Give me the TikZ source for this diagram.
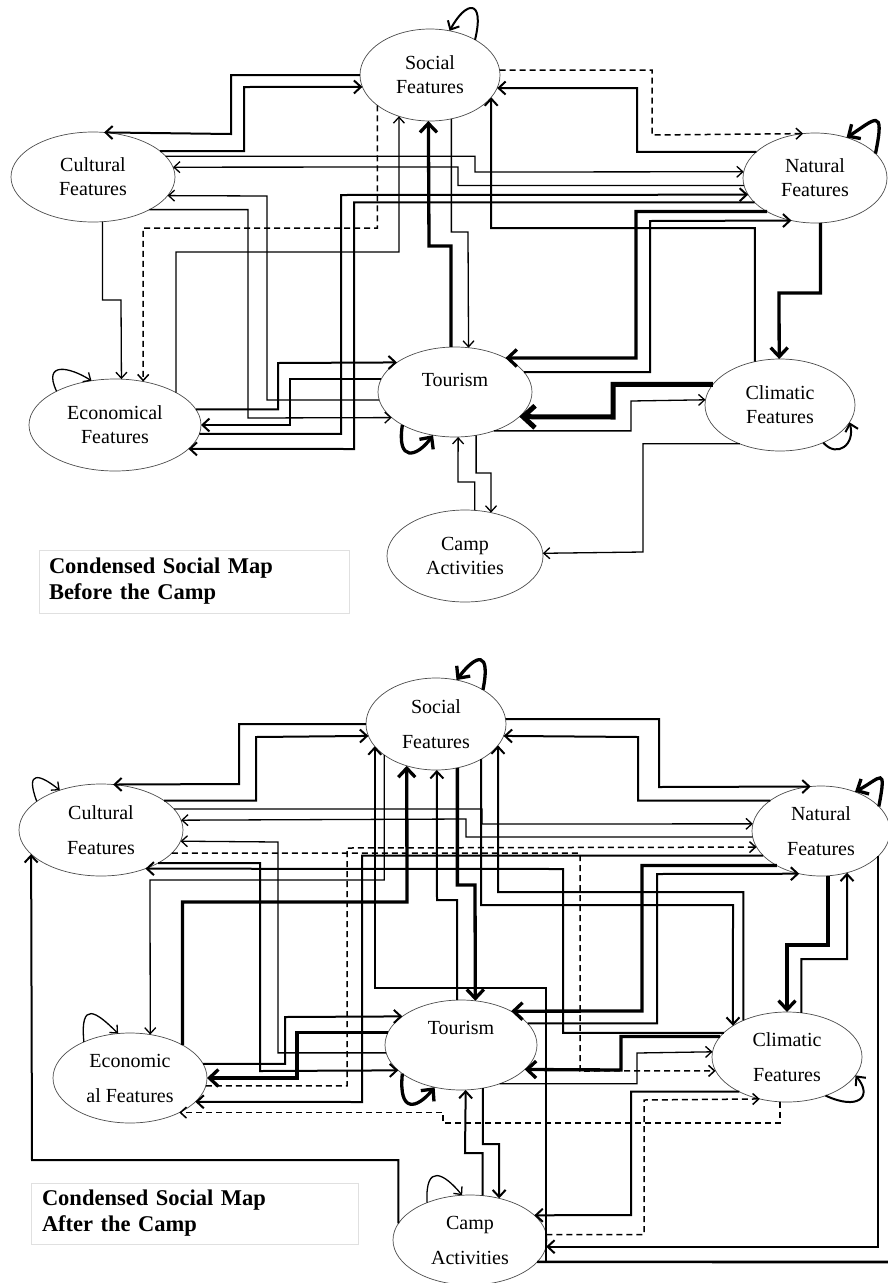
\documentclass[tikz,border=0pt]{standalone}
\usepackage{fontspec}
\setmainfont{Liberation Serif}
\usetikzlibrary{shapes.geometric,arrows.meta}

\begin{document}
\begin{tikzpicture}[x=1pt,y=-1pt,
  feat/.style={ellipse, draw=black!70, line width=0.7pt, inner sep=0pt, outer sep=0pt, align=center, font=\fontsize{20}{24}\selectfont},
  featb/.style={feat, font=\fontsize{20}{35}\selectfont},
  titlebox/.style={draw=black!12, line width=0.6pt, inner sep=0pt, align=left, font=\fontsize{22.5}{26}\selectfont\bfseries},
  wfine/.style={line width=1.3pt, -{Straight Barb[length=6pt,width=11pt]}},
  wmid/.style={line width=2pt, -{Straight Barb[length=7pt,width=13pt]}},
  wbold/.style={line width=3.3pt, -{Straight Barb[length=9pt,width=17pt]}},
  wheavy/.style={line width=5pt, -{Straight Barb[length=12pt,width=22pt]}},
  wdash/.style={line width=1.5pt, dash pattern=on 6pt off 4pt, -{Straight Barb[length=6pt,width=11pt]}}]
\fill[white] (0,0) rectangle (888,1283);
\useasboundingbox (0,0) rectangle (888,1283);

% before the camp
\node[feat, minimum width=140pt, minimum height=92pt] (soc) at (430,75) {Social\\Features};
\node[feat, minimum width=164pt, minimum height=90pt] (cul) at (93,177) {Cultural\\Features};
\node[feat, minimum width=144pt, minimum height=90pt] (nat) at (815,178) {Natural\\Features};
\node[feat, minimum width=172pt, minimum height=92pt] (eco) at (115,425) {Economical\\Features};
\node[feat, minimum width=154pt, minimum height=90pt] (tou) at (455,392) {Tourism\\\phantom{T}};
\node[feat, minimum width=150pt, minimum height=92pt] (cli) at (780,405) {Climatic\\Features};
\node[feat, minimum width=156pt, minimum height=92pt] (cam) at (465,556) {Camp\\Activities};
\node[titlebox, minimum width=310pt, minimum height=63pt, text width=290pt] (cap1) at (194,581.5) {Condensed Social Map\\Before the Camp};

\draw[wmid] (soc.180) -| (231,134) -- (cul.76);
\draw[wmid] (cul.21.2) -| (244,87) -- (soc.190.1);
\draw[wfine] (cul.16.2) -| (475,172) -- (nat.175.2);
\draw[wfine] (nat.186.4) -| (458,167) -- (cul.7.1);
\draw[wfine] (cul.-30.6) -| (248,418) -- (tou.202.5);
\draw[wfine] (tou.186) -| (267,196) -- (cul.-14.3);
\draw[wfine] (cul.-78.6) |- (121,300) -- (eco.82.6);
\draw[wdash] (soc.210.6) |- (143,228) -- (eco.57.2);
\draw[wfine] (eco.28.7) |- (399,252) -- (soc.233);
\draw[wmid] (eco.11.2) -| (278,363) -- (tou.153.8);
\draw[wmid] (tou.170) -| (290,425) -- (eco.0);
\draw[wmid] (eco.-6.8) -| (341,195) -- (nat.194.3);
\draw[wmid] (nat.202.7) -| (354,449) -- (eco.-18.1);
\draw[wfine] (soc.-64.4) |- (468,232) -- (tou.73.7);
\draw[wbold] (tou.95.1) |- (429,246) -- (soc.268.8);
\draw[wmid] (cli.120.1) |- (491,228) -- (soc.-20.3);
\draw[wmid] (nat.156.1) -| (637,88) -- (soc.-11);
\draw[wdash] (soc.4.1) -| (652,135) -- (nat.105.1);
\draw[wbold] (nat.215.8) -| (636,358) -- (tou.34);
\draw[wmid] (tou.16.2) -| (650,221) -- (nat.241.6);
\draw[wbold] (nat.-83.6) |- (779,293) -- (cli.91.2);
\draw[wheavy] (cli.163.5) -| (613,417) -- (tou.-21.3);
\draw[wfine] (tou.-45.4) -| (631,401) -- (cli.176.9);
\draw[wfine] (cli.224.5) -| (643,552) -- (cam.2.9);
\draw[wfine] (tou.-64.1) |- (491,473) -- (cam.59.1);
\draw[wfine] (cam.78.9) |- (458,482) -- (tou.-86.2);
% loops
\draw[wmid] (soc.38) .. controls +(10,-42) and +(16,-30) .. (soc.66);
\draw[wbold] (nat.22) .. controls +(10,-48) and +(28,-18) .. (nat.52);
\draw[wfine] (eco.150) .. controls +(-14,-30) and +(-22,-14) .. (eco.118);
\draw[wbold] (tou.212) .. controls +(-6,38) and +(-16,22) .. (tou.243);
\draw[wmid] (cli.-41) .. controls +(14,16) and +(6,22) .. (cli.-14);

% after the camp
\node[featb, minimum width=140pt, minimum height=92pt] (soc2) at (436,724) {Social\\Features};
\node[featb, minimum width=164pt, minimum height=92pt] (cul2) at (101,830) {Cultural\\Features};
\node[featb, minimum width=138pt, minimum height=90pt] (nat2) at (821,831) {Natural\\Features};
\node[featb, minimum width=154pt, minimum height=90pt] (eco2) at (130,1078) {Economic\\al Features};
\node[featb, minimum width=152pt, minimum height=90pt] (tou2) at (461,1045) {Tourism\\\phantom{T}};
\node[featb, minimum width=150pt, minimum height=90pt] (cli2) at (787,1057) {Climatic\\Features};
\node[featb, minimum width=154pt, minimum height=90pt] (cam2) at (470,1240) {Camp\\Activities};
\node[titlebox, minimum width=327pt, minimum height=61pt, text width=305pt] (cap2) at (194.5,1213.5) {Condensed Social Map\\After the Camp};
\coordinate (cut) at (888,1262);

\draw[wmid] (soc2.180) -| (239,784) -- (cul2.75);
\draw[wmid] (cul2.25.8) -| (256,737) -- (soc2.190.9);
\draw[wfine] (cul2.16) -| (482,824) -- (nat2.174.1);
\draw[wfine] (nat2.185.9) -| (466,819) -- (cul2.7.9);
\draw[wdash] (cul2.-18.9) -| (580,1071) -- (cli2.191.1);
\draw[wdash] (eco2.-6.8) -| (347,848) -- (nat2.194.9);
\draw[wfine] (tou2.186.1) -| (278,842) -- (cul2.-8.6);
\draw[wmid] (cul2.-30) -| (260,1071) -- (tou2.202.8);
\draw[wmid] (cli2.159.3) -| (563,869) -- (cul2.-41.9);
\draw[wfine] (soc2.211.7) |- (150,880) -- (eco2.65.3);
\draw[wbold] (eco2.32.6) |- (407,902) -- (soc2.235.3);
\draw[wmid] (tou2.95.1) |- (437,900) -- (soc2.271.2);
\draw[wbold] (soc2.-64.4) |- (475,885) -- (tou2.72.4);
\draw[wmid] (soc2.-38) |- (733,905) -- (cli2.150);
\draw[wmid] (cli2.140.4) |- (498,892) -- (soc2.-19);
\draw[wmid] (soc2.4.1) -| (659,787) -- (nat2.103.9);
\draw[wmid] (nat2.149.7) -| (638,737) -- (soc2.-10.9);
\draw[wbold] (nat2.218.9) -| (642,1011) -- (tou2.34.3);
\draw[wmid] (tou2.18.4) -| (657,874) -- (nat2.243.9);
\draw[wbold] (nat2.-81.1) |- (787,945) -- (cli2.90);
\draw[wmid] (cli2.72.4) |- (847,959) -- (nat2.-58.1);
\draw[wmid] (nat2.-24) |- (cam2.-5.3);
\draw[wbold] (cli2.163.4) -| (621,1070) -- (tou2.-21.6);
\draw[wfine] (tou2.-45.8) -| (637,1053) -- (cli2.176.9);
\draw[wmid] (cli2.216.6) -| (631,1215) -- (cam2.21.3);
\draw[wdash] (cam2.4.5) -| (644,1100) -- (cli2.237.3);
\draw[wdash] (cli2.261.1) |- (443,1123) |- (eco2.-35.9);
\draw[wbold] (tou2.170.7) -| (297,1078) -- (eco2.0);
\draw[wmid] (eco2.11.7) -| (285,1017) -- (tou2.154.8);
\draw[wmid] (nat2.203.5) -| (362,1102) -- (eco2.-20.2);
\draw[wmid] (cam2.167.5) |- (32,1160) -- (cul2.199.8);
\draw[wmid] (cam2.-18.1) -| (546,988) -| (soc2.200.3);
\draw[line width=2.6pt] (cam2.-18.1) -- (cut);
\draw[wmid] (tou2.-63) |- (499,1144) -- (cam2.55.2);
\draw[wmid] (cam2.74.9) |- (465,1153) -- (tou2.-84.9);
% loops
\draw[wbold] (soc2.36) .. controls +(8,-40) and +(20,-26) .. (soc2.65);
\draw[wbold] (nat2.23) .. controls +(8,-42) and +(26,-14) .. (nat2.49);
\draw[wfine] (cul2.156) .. controls +(-12,-32) and +(-20,-16) .. (cul2.136);
\draw[wfine] (eco2.142) .. controls +(-4,-42) and +(-22,-22) .. (eco2.105);
\draw[wbold] (tou2.206) .. controls +(-4,40) and +(-18,22) .. (tou2.238);
\draw[wmid] (cli2.-45) .. controls +(32,15) and +(18,22) .. (cli2.-15);
\draw[wfine] (cam2.139) .. controls +(-2,-40) and +(-18,-22) .. (cam2.100);
\end{tikzpicture}
\end{document}
